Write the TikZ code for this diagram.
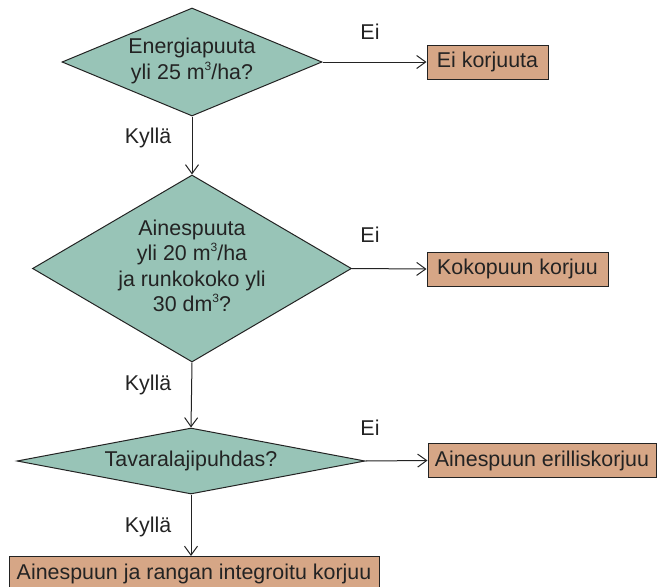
\documentclass[tikz,border=0pt]{standalone}
\usepackage{fontspec}
\setmainfont{Liberation Sans}
\usetikzlibrary{shapes.geometric,arrows.meta}
\definecolor{decfill}{RGB}{152,196,183}
\definecolor{boxfill}{RGB}{214,166,134}
\definecolor{inkgray}{RGB}{35,35,35}
\newcommand{\cubed}{\raisebox{0.42em}{\fontsize{12}{12}\selectfont 3}}

\begin{document}
\begin{tikzpicture}[x=1pt, y=-1pt, font=\fontsize{21.4}{25.4}\selectfont, text=inkgray,
                    decision/.style={diamond, draw=inkgray, fill=decfill,
                                     line width=1pt, inner sep=0pt},
                    qtext/.style={align=center, inner sep=0pt},
                    result/.style={rectangle, draw=inkgray, fill=boxfill,
                                   line width=1pt, minimum height=34pt, inner sep=0pt},
                    flow/.style={draw=inkgray, line width=1pt,
                                 -{Straight Barb[length=9pt,width=13pt]}},
                    answer/.style={inner sep=0pt}]
                      \useasboundingbox (0,0) rectangle (657,587);

                      % decisions
                      \node[decision, minimum width=260pt, minimum height=108pt] (Q1) at (192,62) {};
                      \node[qtext] (Q1t) at (192,61) {Energiapuuta\\yli 25 m\cubed/ha?};
                      \node[decision, minimum width=319pt, minimum height=187pt] (Q2) at (192,268.5) {};
                      \node[qtext] (Q2t) at (192,266) {Ainespuuta\\yli 20 m\cubed/ha\\ja runkokoko yli\\30 dm\cubed?};
                      \node[decision, minimum width=348pt, minimum height=66pt] (Q3) at (191,461) {};
                      \node[qtext] (Q3t) at (Q3) {Tavaralajipuhdas?};

                      % outcomes
                      \node[result, minimum width=121pt] (R1) at (487.5,62) {Ei korjuuta};
                      \node[result, minimum width=181pt] (R2) at (517.5,269) {Kokopuun korjuu};
                      \node[result, minimum width=228pt] (R3) at (542,460.5) {Ainespuun erilliskorjuu};
                      \node[result, minimum width=370pt] (R4) at (194,573.5) {Ainespuun ja rangan integroitu korjuu};

                      % connectors
                      \foreach \i/\j in {Q1/R1, Q2/R2, Q3/R3} {
                              \draw[flow] (\i.east) -- (\j.west);
                          }
                      \draw[flow] (Q1.south) -- (Q2.north);
                      \draw[flow] (Q2.south) -- (Q3.north);
                      \draw[flow] (Q3.south) -- (Q3.south |- R4.north);

                      % answers
                      \foreach \y [count=\k] in {32,235,428} {
                              \node[answer] (E\k) at (370,\y) {Ei};
                          }
                      \foreach \y [count=\k] in {138,385,527} {
                              \node[answer] (K\k) at (148,\y) {Kyllä};
                          }
                  \end{tikzpicture}
\end{document}
